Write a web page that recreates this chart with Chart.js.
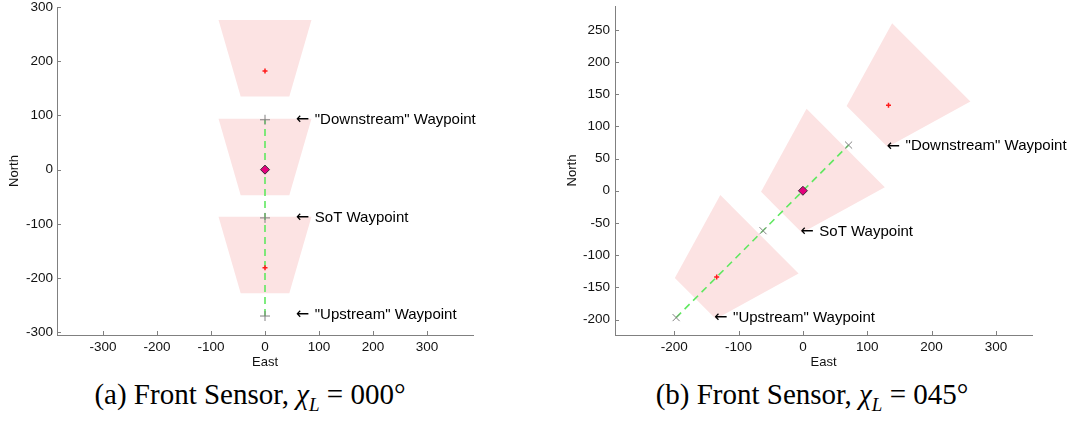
<!DOCTYPE html>
<html>
<head>
<meta charset="utf-8">
<script src="https://cdn.jsdelivr.net/npm/chart.js@4/dist/chart.umd.min.js"></script>
<style>
  body { margin: 0; background: #fff; }
  #wrap { position: relative; width: 1070px; height: 431px; overflow: hidden; }
  .box { position: absolute; top: 0; width: 535px; height: 375px; }
  .cap { position: absolute; top: 378px; width: 420px; text-align: center;
         font-family: "Liberation Serif", "DejaVu Serif", serif; font-size: 29px; color: #000; }
  .cap sub { font-size: 19px; }
</style>
</head>
<body>
<div id="wrap">
  <div class="box" style="left:0"><canvas id="chartA" width="535" height="375"></canvas></div>
  <div class="box" style="left:535px"><canvas id="chartB" width="535" height="375"></canvas></div>
  <div class="cap" style="left:40px">(a) Front Sensor, <i>χ<sub>L</sub></i> = 000°</div>
  <div class="cap" style="left:602px">(b) Front Sensor, <i>χ<sub>L</sub></i> = 045°</div>
</div>
<script>
// sensor footprint (metres, along-track / half-width relative to sensor point)
const footNear = -47, footFar = 94;
const footNearHalf = 45, footFarHalf = 86;

const labelTexts = ['"Downstream" Waypoint', 'SoT Waypoint', '"Upstream" Waypoint'];

// (a) chi_L = 000
const headingA = 0;
const sensorPosA = [[0, 182], [0, 0], [0, -181]];
const targetsA = [[0, 182], [0, -181]];
const vehicleA = [[0, 0]];
const pathA = [[0, -270], [0, 92]];
const waypointsA = [[0, 92], [0, -89], [0, -270]];
const labelAtA = [[57, 92], [57, -89], [57, -268]];
const xTicksA = [-300, -200, -100, 0, 100, 200, 300];
const yTicksA = [-300, -200, -100, 0, 100, 200, 300];

// (b) chi_L = 045
const headingB = 45;
const sensorPosB = [[133, 133], [0, 0], [-134, -134]];
const targetsB = [[133, 133], [-134, -134]];
const vehicleB = [[0, 0]];
const pathB = [[-197, -197], [71, 71]];
const waypointsB = [[71, 71], [-62, -62], [-197, -197]];
const labelAtB = [[130, 69], [-4, -64], [-138, -198]];
const xTicksB = [-200, -100, 0, 100, 200, 300];
const yTicksB = [-200, -150, -100, -50, 0, 50, 100, 150, 200, 250];

const axisColor = '#808080';
const pink = '#fce3e3';
const green = '#5fe85f';

const toXY = arr => arr.map(p => ({x: p[0], y: p[1]}));

function footprint(c, chi) {
    const a = chi * Math.PI / 180;
    const f = [Math.sin(a), Math.cos(a)];
    const r = [Math.cos(a), -Math.sin(a)];
    const pt = (d, w) => ({x: c[0] + d * f[0] + w * r[0], y: c[1] + d * f[1] + w * r[1]});
    return [pt(footNear, -footNearHalf), pt(footNear, footNearHalf),
            pt(footFar, footFarHalf), pt(footFar, -footFarHalf), pt(footNear, -footNearHalf)];
}

// MATLAB-style tick marks drawn inside the axes
const insideTicks = {
    id: 'insideTicks',
    afterDraw(chart) {
        const {ctx, chartArea, scales: {x, y}} = chart;
        ctx.save();
        ctx.strokeStyle = axisColor;
        ctx.lineWidth = 1;
        ctx.beginPath();
        x.ticks.forEach(t => {
            const px = Math.round(x.getPixelForValue(t.value)) + 0.5;
            ctx.moveTo(px, chartArea.bottom);
            ctx.lineTo(px, chartArea.bottom - 4);
        });
        y.ticks.forEach(t => {
            const py = Math.round(y.getPixelForValue(t.value)) + 0.5;
            ctx.moveTo(chartArea.left, py);
            ctx.lineTo(chartArea.left + 4, py);
        });
        ctx.stroke();
        ctx.restore();
    }
};

// "<- label" annotations next to the waypoints
const waypointLabels = {
    id: 'waypointLabels',
    afterDatasetsDraw(chart, args, opts) {
        const {ctx, scales: {x, y}} = chart;
        ctx.save();
        ctx.fillStyle = '#000';
        ctx.textAlign = 'left';
        ctx.textBaseline = 'middle';
        opts.at.forEach((p, i) => {
            const px = x.getPixelForValue(p[0]);
            const py = y.getPixelForValue(p[1]);
            ctx.font = '16px "DejaVu Sans", sans-serif';
            ctx.fillText('\u2190', px, py);
            ctx.font = '15px "Liberation Sans", Arial, sans-serif';
            ctx.fillText(opts.text[i], px + 19, py);
        });
        ctx.restore();
    }
};

function makeChart(id, s) {
    const datasets = [];
    s.sensors.forEach(c => datasets.push({
        data: footprint(c, s.heading),
        showLine: true, fill: 'shape', tension: 0,
        backgroundColor: pink, borderColor: 'rgba(0,0,0,0)', borderWidth: 0,
        pointRadius: 0, order: 10
    }));
    datasets.push({
        data: toXY(s.path), showLine: true, fill: false,
        borderColor: green, borderWidth: 1.6, borderDash: [7, 5],
        pointRadius: 0, order: 5
    });
    datasets.push({
        data: toXY(s.waypoints), pointStyle: 'cross', pointRotation: s.heading,
        pointRadius: 5, borderColor: '#808080', borderWidth: 1, order: 4
    });
    datasets.push({
        data: toXY(s.targets), pointStyle: 'cross', pointRadius: 2.5,
        borderColor: '#ff1a1a', borderWidth: 1.5, order: 3
    });
    datasets.push({
        data: toXY(s.vehicle), pointStyle: 'rectRot',
        pointRadius: 4.5, backgroundColor: '#e4007c', borderColor: '#3a2a3a', borderWidth: 1, order: 2
    });

    const tickFont = {family: '"Liberation Sans", Arial, sans-serif', size: 13.5};
    const titleFont = {family: '"Liberation Sans", Arial, sans-serif', size: 13};

    return new Chart(document.getElementById(id), {
        type: 'scatter',
        data: {datasets},
        plugins: [insideTicks, waypointLabels],
        options: {
            responsive: false,
            animation: false,
            events: [],
            layout: {padding: s.padding},
            plugins: {
                legend: {display: false},
                tooltip: {enabled: false},
                waypointLabels: {at: s.labelAt, text: labelTexts}
            },
            scales: {
                x: {
                    type: 'linear', min: s.xRange[0], max: s.xRange[1],
                    ticks: {font: tickFont, color: '#111', padding: 4, maxRotation: 0, autoSkip: false},
                    afterBuildTicks: sc => { sc.ticks = s.xTicks.map(v => ({value: v})); },
                    grid: {drawOnChartArea: false, drawTicks: false},
                    border: {color: axisColor},
                    title: {display: true, text: 'East', font: titleFont, color: '#111', padding: {top: 0, bottom: 5}},
                    afterFit: sc => { sc.height = 40; sc.paddingLeft = 0; sc.paddingRight = 0; }
                },
                y: {
                    type: 'linear', min: s.yRange[0], max: s.yRange[1],
                    ticks: {font: tickFont, color: '#111', padding: s.yTickPad, autoSkip: false},
                    afterBuildTicks: sc => { sc.ticks = s.yTicks.map(v => ({value: v})); },
                    grid: {drawOnChartArea: false, drawTicks: false},
                    border: {color: axisColor},
                    title: {display: true, text: 'North', font: titleFont, color: '#111', padding: {top: s.yTitlePad, bottom: 0}},
                    afterFit: sc => { sc.width = s.yWidth; sc.paddingTop = 0; sc.paddingBottom = 0; }
                }
            }
        }
    });
}

makeChart('chartA', {
    heading: headingA, sensors: sensorPosA, targets: targetsA, vehicle: vehicleA,
    path: pathA, waypoints: waypointsA, labelAt: labelAtA,
    xRange: [-385, 385], yRange: [-305, 300], xTicks: xTicksA, yTicks: yTicksA,
    padding: {left: 0, top: 7, right: 62, bottom: 0},
    yWidth: 57, yTickPad: 4, yTitlePad: 7
});

makeChart('chartB', {
    heading: headingB, sensors: sensorPosB, targets: targetsB, vehicle: vehicleB,
    path: pathB, waypoints: waypointsB, labelAt: labelAtB,
    xRange: [-292, 356], yRange: [-224, 287], xTicks: xTicksB, yTicks: yTicksB,
    padding: {left: 0, top: 6, right: 38, bottom: 0},
    yWidth: 80, yTickPad: 5, yTitlePad: 30
});
</script>
</body>
</html>
